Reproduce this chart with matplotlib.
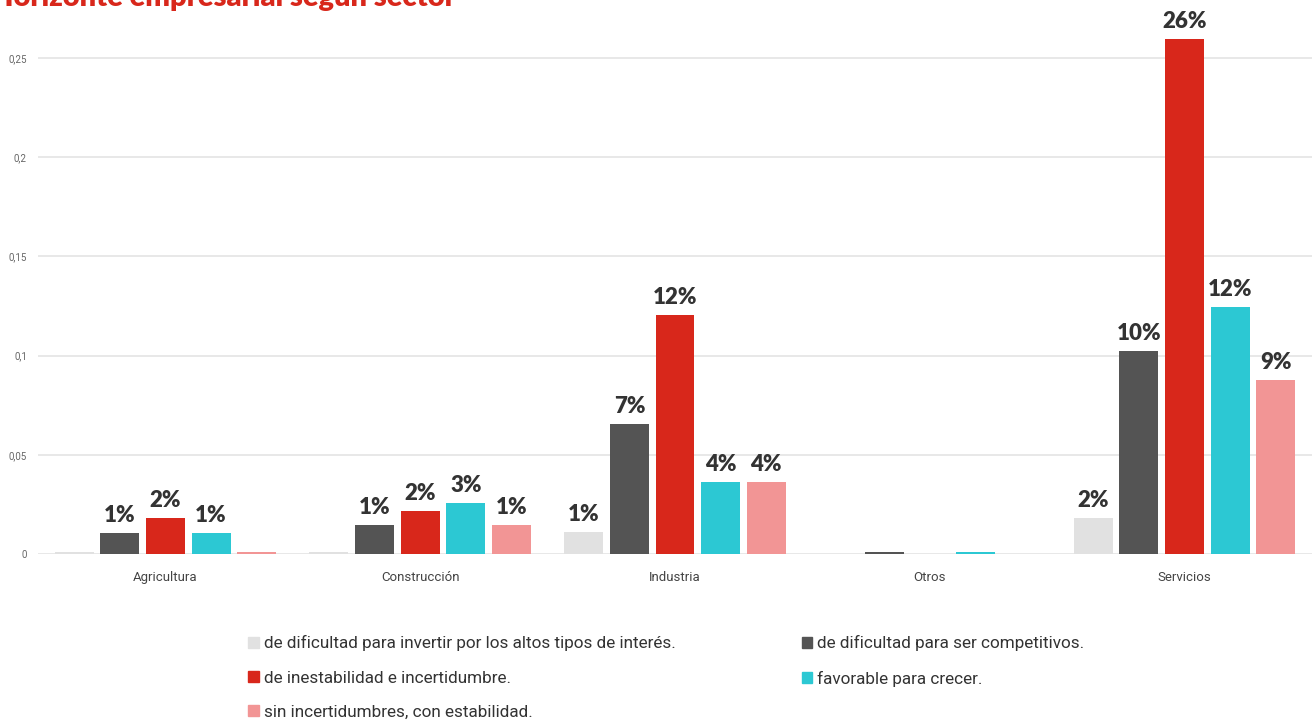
import numpy as np
import matplotlib.pyplot as plt
from matplotlib.patches import Patch

sectores = ["Agricultura", "Construcción", "Industria", "Otros", "Servicios"]
series = [
    "de dificultad para invertir por los altos tipos de interés.",
    "de dificultad para ser competitivos.",
    "de inestabilidad e incertidumbre.",
    "favorable para crecer.",
    "sin incertidumbres, con estabilidad.",
]
colores = ["#E1E1E1", "#545454", "#D8271B", "#2CC8D3", "#F29595"]

# share of companies per sector, one list per series
invertir = [0.001, 0.001, 0.011, 0.0, 0.018]
competitivos = [0.0106, 0.0146, 0.0655, 0.001, 0.1023]
inestabilidad = [0.018, 0.0217, 0.1205, 0.0, 0.2596]
crecer = [0.0106, 0.0257, 0.0363, 0.001, 0.1245]
estabilidad = [0.001, 0.0146, 0.0363, 0.0, 0.0877]
valores = [invertir, competitivos, inestabilidad, crecer, estabilidad]

yticks = [0, 0.05, 0.1, 0.15, 0.2, 0.25]
ytick_labels = ["0", "0,05", "0,1", "0,15", "0,2", "0,25"]

plt.rcParams["font.family"] = ["Roboto", "DejaVu Sans"]

fig = plt.figure(figsize=(13.12, 7.24), dpi=100)
ax = fig.add_axes([38 / 1312, 170 / 724, 1 - 38 / 1312, (554 - 20) / 724])

x = np.arange(len(sectores))
paso = 0.179
ancho = 0.153
for i, (serie, col) in enumerate(zip(valores, colores)):
    pos = x + (i - 2) * paso
    bars = ax.bar(pos, serie, width=ancho, color=col, zorder=3)
    etiquetas = [f"{v * 100:.0f}%" if v >= 0.005 else "" for v in serie]
    ax.bar_label(bars, labels=etiquetas, padding=5, fontsize=16,
                 fontweight="heavy", color="#333333", family=["Lato", "DejaVu Sans"])

ax.set_xlim(-0.5, 4.5)
ax.set_ylim(0, (554 - 20) / 1984)
ax.set_yticks(yticks)
ax.set_yticklabels(ytick_labels)
ax.set_xticks(x)
ax.set_xticklabels(sectores)
ax.grid(axis="y", color="#E4E4E4", linewidth=1.2, zorder=0)
for s in ax.spines.values():
    s.set_visible(False)
ax.tick_params(axis="y", length=0, labelsize=7, labelcolor="#666666", pad=8)
ax.tick_params(axis="x", length=0, labelsize=9.5, labelcolor="#444444", pad=12)
for lbl in ax.get_yticklabels():
    lbl.set_horizontalalignment("right")

# legend in two columns, filled row by row
orden = [0, 2, 4, 1, 3]
handles = [Patch(color=colores[k], label=series[k]) for k in orden]
fig.legend(handles=handles, ncol=2, loc="upper left",
           bbox_to_anchor=(233 / 1312, 1 - 620 / 724), frameon=False,
           fontsize=12.3, labelcolor="#333333", handlelength=0.6,
           handleheight=0.6, handletextpad=0.3, labelspacing=1.12,
           columnspacing=7.4)

fig.text(-9 / 1312, 1 - 6 / 724, "Horizonte empresarial según sector",
         fontsize=21, fontweight="heavy", color="#D8271B", va="baseline",
         ha="left", family=["Lato", "DejaVu Sans"])

fig.savefig("out.png", dpi=100)
